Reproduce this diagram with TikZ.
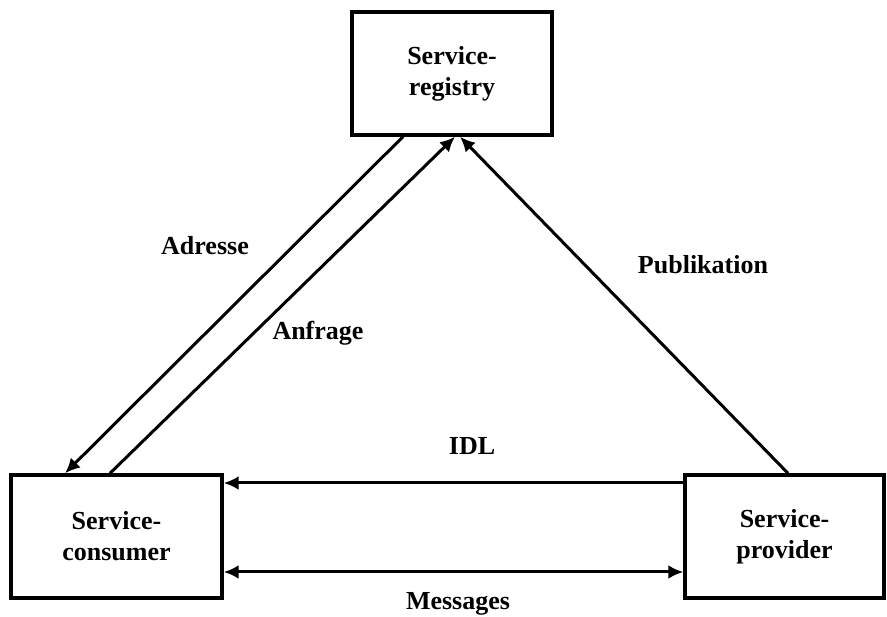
\documentclass[tikz,border=0pt]{standalone}
\usepackage{fontspec}
\setmainfont{Liberation Serif}
\usetikzlibrary{arrows.meta}
\begin{document}
\begin{tikzpicture}[x=1pt,y=-1pt,
  box/.style={draw, line width=3.4pt, minimum height=123pt, align=center,
    inner sep=0pt, font=\fontsize{26}{31}\selectfont\bfseries},
  lbl/.style={font=\fontsize{26}{30}\selectfont\bfseries, inner sep=0pt},
  tip/.tip={Latex[length=15pt,width=14pt]},
  conn/.style={line width=3pt, -tip},
  both/.style={line width=3pt, tip-tip}]
  \useasboundingbox (0,0) rectangle (887,617);

  % the three participants
  \node[box, minimum width=200pt] (reg) at (452,73.5) {Service-\\registry};
  \node[box, minimum width=211pt] (con) at (116.5,536.5) {Service-\\consumer};
  \node[box, minimum width=199pt] (prov) at (784.5,536.5) {Service-\\provider};

  % lookup between consumer and registry
  \draw[conn] ([xshift=-49pt]reg.south) -- ([xshift=-51.5pt]con.north);
  \draw[conn] ([xshift=-6.5pt]con.north) -- ([xshift=3pt]reg.south);
  % provider publishes to registry
  \draw[conn] ([xshift=3.5pt]prov.north) -- ([xshift=8pt]reg.south);

  % consumer <-> provider
  \draw[conn] ([yshift=53.5pt]prov.west) -- ([yshift=53.5pt]con.east);
  \draw[both] ([yshift=-35.5pt]con.east) -- ([yshift=-35.5pt]prov.west);

  % labels
  \node[lbl] (ladr) at (205,246) {Adresse};
  \node[lbl] (lanf) at (318,333) {Anfrage};
  \node[lbl] (lpub) at (703,265) {Publikation};
  \node[lbl] (lidl) at (472,446) {IDL};
  \node[lbl] (lmsg) at (458,604) {Messages};
\end{tikzpicture}
\end{document}
